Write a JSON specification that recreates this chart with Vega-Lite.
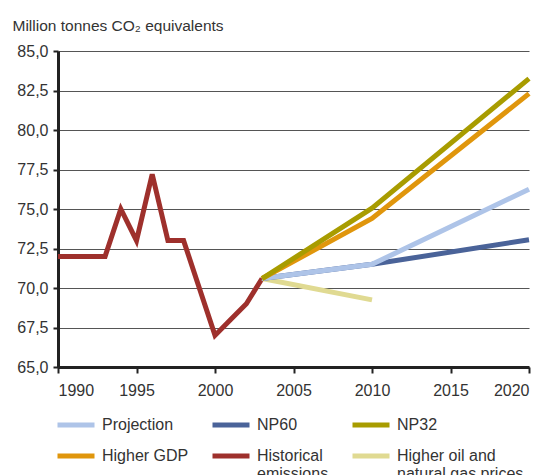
{
  "$schema": "https://vega.github.io/schema/vega-lite/v6.json",
  "width": 471,
  "height": 316,
  "autosize": "none",
  "padding": {"left": 58, "top": 51, "right": 21, "bottom": 108},
  "background": "white",
  "config": {
    "font": "Liberation Sans",
    "view": {"stroke": null}
  },
  "data": {
    "values": [
      {"year": 1990, "value": 72.0, "series": "Historical emissions"},
      {"year": 1991, "value": 72.0, "series": "Historical emissions"},
      {"year": 1992, "value": 72.0, "series": "Historical emissions"},
      {"year": 1993, "value": 72.0, "series": "Historical emissions"},
      {"year": 1994, "value": 75.0, "series": "Historical emissions"},
      {"year": 1995, "value": 73.0, "series": "Historical emissions"},
      {"year": 1996, "value": 77.2, "series": "Historical emissions"},
      {"year": 1997, "value": 73.0, "series": "Historical emissions"},
      {"year": 1998, "value": 73.0, "series": "Historical emissions"},
      {"year": 1999, "value": 70.0, "series": "Historical emissions"},
      {"year": 2000, "value": 67.0, "series": "Historical emissions"},
      {"year": 2001, "value": 68.0, "series": "Historical emissions"},
      {"year": 2002, "value": 69.0, "series": "Historical emissions"},
      {"year": 2003, "value": 70.6, "series": "Historical emissions"},
      {"year": 2003, "value": 70.6, "series": "Higher oil and natural gas prices"},
      {"year": 2010, "value": 69.25, "series": "Higher oil and natural gas prices"},
      {"year": 2003, "value": 70.6, "series": "NP60"},
      {"year": 2010, "value": 71.5, "series": "NP60"},
      {"year": 2020, "value": 73.05, "series": "NP60"},
      {"year": 2003, "value": 70.6, "series": "Projection"},
      {"year": 2010, "value": 71.5, "series": "Projection"},
      {"year": 2020, "value": 76.25, "series": "Projection"},
      {"year": 2003, "value": 70.6, "series": "Higher GDP"},
      {"year": 2010, "value": 74.4, "series": "Higher GDP"},
      {"year": 2020, "value": 82.3, "series": "Higher GDP"},
      {"year": 2003, "value": 70.6, "series": "NP32"},
      {"year": 2010, "value": 75.05, "series": "NP32"},
      {"year": 2020, "value": 83.25, "series": "NP32"}
    ]
  },
  "mark": {"type": "line", "strokeWidth": 5, "strokeCap": "butt", "strokeJoin": "miter", "clip": false},
  "encoding": {
    "x": {
      "field": "year",
      "type": "quantitative",
      "scale": {"domain": [1990, 2020], "nice": false, "zero": false},
      "axis": {
        "title": null,
        "values": [1990, 1995, 2000, 2005, 2010, 2015, 2020],
        "format": "d",
        "grid": false,
        "domainColor": "#222222",
        "domainWidth": 3,
        "tickColor": "#222222",
        "tickWidth": 2,
        "tickSize": 6,
        "labelFontSize": 16,
        "labelColor": "#333333",
        "labelPadding": 9
      }
    },
    "y": {
      "field": "value",
      "type": "quantitative",
      "scale": {"domain": [65, 85], "nice": false, "zero": false},
      "axis": {
        "values": [65, 67.5, 70, 72.5, 75, 77.5, 80, 82.5, 85],
        "labelExpr": "replace(format(datum.value, '.1f'), '.', ',')",
        "grid": true,
        "gridColor": "#555555",
        "gridWidth": 1.2,
        "domainColor": "#222222",
        "domainWidth": 3,
        "tickColor": "#222222",
        "tickWidth": 2,
        "tickSize": 5,
        "labelFontSize": 16,
        "labelColor": "#333333",
        "labelPadding": 5,
        "title": "Million tonnes CO₂ equivalents",
        "titleAngle": 0,
        "titleAlign": "left",
        "titleBaseline": "alphabetic",
        "titleX": -46,
        "titleY": -21,
        "titleFontSize": 15.5,
        "titleFontWeight": "normal",
        "titleColor": "#333333"
      }
    },
    "color": {
      "field": "series",
      "type": "nominal",
      "scale": {
        "domain": ["Projection", "NP60", "NP32", "Higher GDP", "Historical emissions", "Higher oil and natural gas prices"],
        "range": ["#aec4e8", "#4a6399", "#a89c00", "#e0960c", "#9e302c", "#e0da92"]
      },
      "legend": {
        "title": null,
        "orient": "none",
        "direction": "horizontal",
        "legendX": -3,
        "legendY": 353,
        "padding": 0,
        "columns": 3,
        "gridAlign": "each",
        "columnPadding": 13,
        "rowPadding": -8,
        "symbolType": "stroke",
        "symbolSize": 1369,
        "symbolStrokeWidth": 5,
        "labelFontSize": 16,
        "labelColor": "#333333",
        "labelOffset": 5,
        "labelLimit": 200,
        "labelExpr": "datum.label == 'Historical emissions' ? ['Historical', 'emissions'] : datum.label == 'Higher oil and natural gas prices' ? ['Higher oil and', 'natural gas prices'] : datum.label"
      }
    }
  }
}
